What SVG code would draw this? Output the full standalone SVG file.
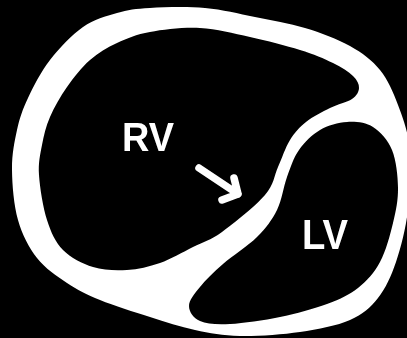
<svg xmlns="http://www.w3.org/2000/svg" width="407" height="338" viewBox="0 0 407 338">
  <defs>
    <filter id="soft" x="-5%" y="-5%" width="110%" height="110%">
      <feGaussianBlur stdDeviation="0.6"/>
    </filter>
    <style>
      .wall { fill: #ffffff; }
      .cavity { fill: #000000; }
      .label { fill: #ffffff; font-family: "Liberation Sans", Arial, sans-serif; font-weight: bold; }
      .pointer { fill: none; stroke: #ffffff; stroke-width: 7.5; stroke-linecap: round; stroke-linejoin: round; }
    </style>
  </defs>
  <rect width="407" height="338" fill="#000000"/>
  <g filter="url(#soft)">
    <!-- myocardial wall, short-axis section -->
    <g id="wall">
      <path class="wall" d="M 150,8 C 164.67,7.17 187.5,6.5 205,8 C 222.5,9.5 238.33,13.67 255,17 C 271.67,20.33 289.17,23.17 305,28 C 320.83,32.83 337.5,39 350,46 C 362.5,53 372,60.17 380,70 C 388,79.83 393,91.67 398,105 C 403,118.33 408.33,132.5 410,150 C 411.67,167.5 410.33,191.33 408,210 C 405.67,228.67 401,247.33 396,262 C 391,276.67 385.67,288.33 378,298 C 370.33,307.67 363,314.33 350,320 C 337,325.67 318.33,329.33 300,332 C 281.67,334.67 257.5,336.33 240,336 C 222.5,335.67 210,333.17 195,330 C 180,326.83 165.83,322 150,317 C 134.17,312 113.83,305.67 100,300 C 86.17,294.33 77.5,290 67,283 C 56.5,276 45.17,268.5 37,258 C 28.83,247.5 22.17,234.67 18,220 C 13.83,205.33 12.17,185 12,170 C 11.83,155 14.33,142 17,130 C 19.67,118 22.5,109.67 28,98 C 33.5,86.33 40.83,71.83 50,60 C 59.17,48.17 71.83,34.83 83,27 C 94.17,19.17 105.83,16.17 117,13 C 128.17,9.83 135.33,8.83 150,8 Z"/>
    </g>
    <!-- right ventricular cavity -->
    <g id="rv">
      <path class="cavity" d="M 200,28 C 216.67,28.83 233.33,33.33 250,37 C 266.67,40.67 286.17,45.67 300,50 C 313.83,54.33 324.17,58.67 333,63 C 341.83,67.33 348.67,71.83 353,76 C 357.33,80.17 359.17,84.17 359,88 C 358.83,91.83 356.83,95.67 352,99 C 347.17,102.33 337.67,104.17 330,108 C 322.33,111.83 312.67,116.67 306,122 C 299.33,127.33 294.67,132.5 290,140 C 285.33,147.5 282.17,157.83 278,167 C 273.83,176.17 274.33,184.17 265,195 C 255.67,205.83 234,223.33 222,232 C 210,240.67 203.33,241.83 193,247 C 182.67,252.17 171,259.17 160,263 C 149,266.83 138.17,269.33 127,270 C 115.83,270.67 103.67,270.33 93,267 C 82.33,263.67 70.67,257.83 63,250 C 55.33,242.17 51,232.5 47,220 C 43,207.5 39.83,187.5 39,175 C 38.17,162.5 40.17,154.67 42,145 C 43.83,135.33 45.83,126.67 50,117 C 54.17,107.33 60.33,96.5 67,87 C 73.67,77.5 81.67,67.33 90,60 C 98.33,52.67 107,47.67 117,43 C 127,38.33 136.17,34.5 150,32 C 163.83,29.5 183.33,27.17 200,28 Z"/>
      <text class="label" x="122" y="151" font-size="41" textLength="52" lengthAdjust="spacingAndGlyphs">RV</text>
    </g>
    <!-- left ventricular cavity -->
    <g id="lv">
      <path class="cavity" d="M 347,122 C 355.83,121.5 365.5,122.33 373,127 C 380.5,131.67 387.83,139.83 392,150 C 396.17,160.17 397.83,175.83 398,188 C 398.17,200.17 396,210.67 393,223 C 390,235.33 385.83,251.17 380,262 C 374.17,272.83 366.83,281 358,288 C 349.17,295 340,299.17 327,304 C 314,308.83 296.17,313.67 280,317 C 263.83,320.33 243.33,323.33 230,324 C 216.67,324.67 206.83,324 200,321 C 193.17,318 189,311.67 189,306 C 189,300.33 194.33,294 200,287 C 205.67,280 213.5,272.33 223,264 C 232.5,255.67 248,246 257,237 C 266,228 272,220 277,210 C 282,200 283.33,187 287,177 C 290.67,167 293.5,157.83 299,150 C 304.5,142.17 312,134.67 320,130 C 328,125.33 338.17,122.5 347,122 Z"/>
      <text class="label" x="302" y="249" font-size="42" textLength="46" lengthAdjust="spacingAndGlyphs">LV</text>
    </g>
    <!-- arrow toward the septum -->
    <g id="connectors">
      <path class="pointer" d="M 199,168 L 238,194 M 222,200 L 238,194 L 234,178"/>
    </g>
  </g>
</svg>
